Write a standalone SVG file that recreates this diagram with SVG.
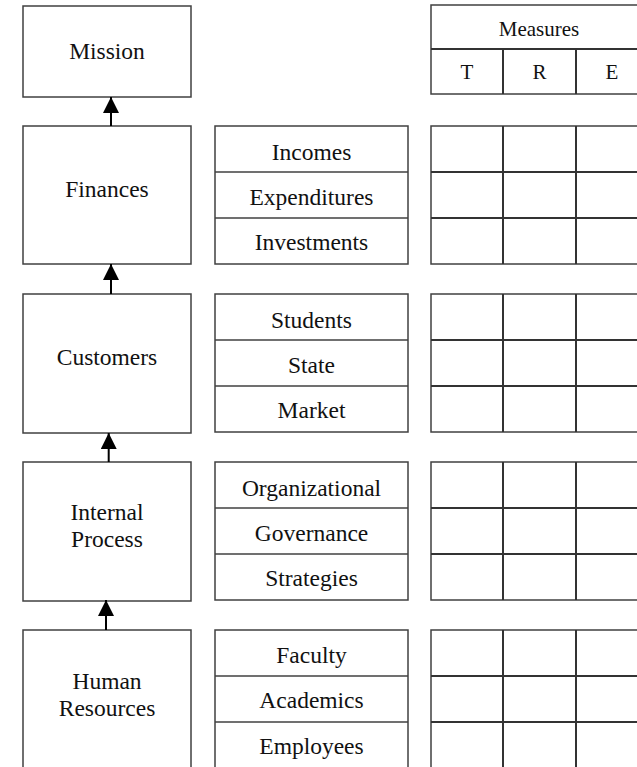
<svg xmlns="http://www.w3.org/2000/svg" width="637" height="767" viewBox="0 0 637 767">
<style>
.box{fill:#fff;stroke:#404040;stroke-width:1.5}
.grid{fill:none;stroke:#333;stroke-width:2}
.conn{stroke:#000;stroke-width:2;fill:none}
</style>
<defs>
<marker id="ah" markerUnits="userSpaceOnUse" viewBox="0 0 16 16" markerWidth="16" markerHeight="16" refX="16" refY="8" orient="auto">
<path d="M0,0 L16,8 L0,16 z" fill="#000"/>
</marker>
</defs>
<rect width="637" height="767" fill="#fff"/>

<g font-family="'Liberation Serif', 'Times New Roman', Times, serif" fill="#111" text-anchor="middle" font-size="23.5">
<g id="mission">
<rect class="box" x="23" y="6" width="168" height="91"/>
<text x="107" y="58.5">Mission</text>
</g>

<g id="measures-header" font-size="21">
<rect class="box" x="431" y="5" width="217" height="89"/>
<line class="grid" x1="431" y1="49" x2="648" y2="49"/>
<line class="grid" x1="503" y1="49" x2="503" y2="94"/>
<line class="grid" x1="576" y1="49" x2="576" y2="94"/>
<text x="539" y="36">Measures</text>
<text x="467" y="79">T</text>
<text x="539.5" y="79">R</text>
<text x="612" y="79">E</text>
</g>

<g id="finances">
<rect class="box" x="23" y="126" width="168" height="138"/>
<text x="107" y="196.5">Finances</text>
</g>
<g id="finances-items">
<rect class="box" x="215" y="126" width="193" height="138"/>
<line class="box" x1="215" y1="172" x2="408" y2="172"/>
<line class="box" x1="215" y1="218" x2="408" y2="218"/>
<text x="311.5" y="159.5">Incomes</text>
<text x="311.5" y="204.5">Expenditures</text>
<text x="311.5" y="250">Investments</text>
</g>
<g id="finances-measures">
<rect class="box" x="431" y="126" width="217" height="138"/>
<line class="grid" x1="431" y1="172" x2="648" y2="172"/>
<line class="grid" x1="431" y1="218" x2="648" y2="218"/>
<line class="grid" x1="503" y1="126" x2="503" y2="264"/>
<line class="grid" x1="576" y1="126" x2="576" y2="264"/>
</g>

<g id="customers">
<rect class="box" x="23" y="294" width="168" height="139"/>
<text x="107" y="365">Customers</text>
</g>
<g id="customers-items">
<rect class="box" x="215" y="294" width="193" height="138"/>
<line class="box" x1="215" y1="340" x2="408" y2="340"/>
<line class="box" x1="215" y1="386" x2="408" y2="386"/>
<text x="311.5" y="327.5">Students</text>
<text x="311.5" y="372.5">State</text>
<text x="311.5" y="418">Market</text>
</g>
<g id="customers-measures">
<rect class="box" x="431" y="294" width="217" height="138"/>
<line class="grid" x1="431" y1="340" x2="648" y2="340"/>
<line class="grid" x1="431" y1="386" x2="648" y2="386"/>
<line class="grid" x1="503" y1="294" x2="503" y2="432"/>
<line class="grid" x1="576" y1="294" x2="576" y2="432"/>
</g>

<g id="internal-process">
<rect class="box" x="23" y="462" width="168" height="139"/>
<text x="107" y="519.5">Internal</text>
<text x="107" y="546.5">Process</text>
</g>
<g id="internal-items">
<rect class="box" x="215" y="462" width="193" height="138"/>
<line class="box" x1="215" y1="508" x2="408" y2="508"/>
<line class="box" x1="215" y1="554" x2="408" y2="554"/>
<text x="311.5" y="495.5">Organizational</text>
<text x="311.5" y="540.5">Governance</text>
<text x="311.5" y="586">Strategies</text>
</g>
<g id="internal-measures">
<rect class="box" x="431" y="462" width="217" height="138"/>
<line class="grid" x1="431" y1="508" x2="648" y2="508"/>
<line class="grid" x1="431" y1="554" x2="648" y2="554"/>
<line class="grid" x1="503" y1="462" x2="503" y2="600"/>
<line class="grid" x1="576" y1="462" x2="576" y2="600"/>
</g>

<g id="human-resources">
<rect class="box" x="23" y="630" width="168" height="160"/>
<text x="107" y="688.5">Human</text>
<text x="107" y="716">Resources</text>
</g>
<g id="hr-items">
<rect class="box" x="215" y="630" width="193" height="160"/>
<line class="box" x1="215" y1="676" x2="408" y2="676"/>
<line class="box" x1="215" y1="722" x2="408" y2="722"/>
<text x="311.5" y="663">Faculty</text>
<text x="311.5" y="708">Academics</text>
<text x="311.5" y="754">Employees</text>
</g>
<g id="hr-measures">
<rect class="box" x="431" y="630" width="217" height="160"/>
<line class="grid" x1="431" y1="676" x2="648" y2="676"/>
<line class="grid" x1="431" y1="722" x2="648" y2="722"/>
<line class="grid" x1="503" y1="630" x2="503" y2="790"/>
<line class="grid" x1="576" y1="630" x2="576" y2="790"/>
</g>
</g>

<g id="connectors">
<line class="conn" x1="111" y1="126" x2="111" y2="97" marker-end="url(#ah)"/>
<line class="conn" x1="111" y1="294" x2="111" y2="264" marker-end="url(#ah)"/>
<line class="conn" x1="108.7" y1="462" x2="108.7" y2="433" marker-end="url(#ah)"/>
<line class="conn" x1="106" y1="630" x2="106" y2="600" marker-end="url(#ah)"/>
</g>
</svg>
